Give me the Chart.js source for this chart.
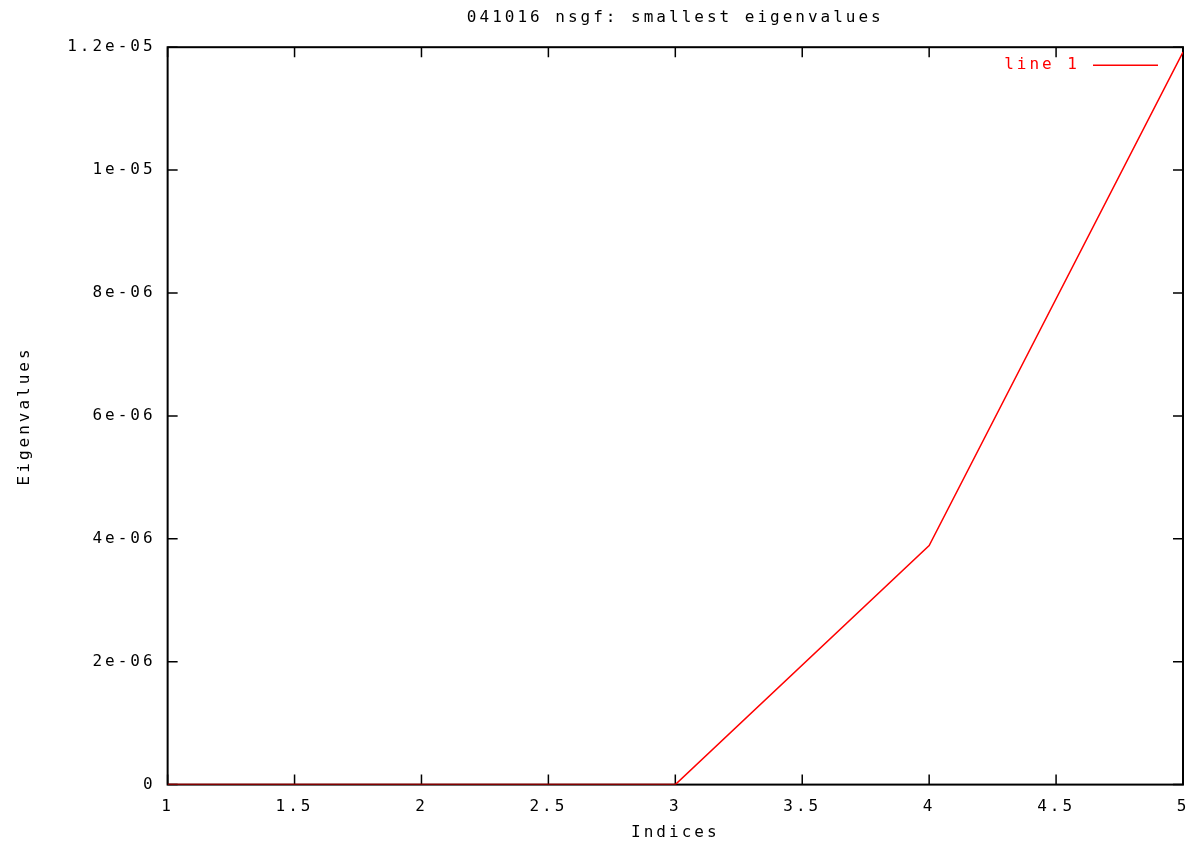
<!DOCTYPE html>
<html>
<head>
<meta charset="utf-8">
<script src="https://cdn.jsdelivr.net/npm/chart.js@4/dist/chart.umd.min.js"></script>
<style>
  html, body { margin: 0; padding: 0; background: #fff; }
  #wrap { width: 1194px; height: 843px; }
</style>
</head>
<body>
<div id="wrap"><canvas id="chart"></canvas></div>
<script>
const indices = [1, 2, 3, 4, 5]
const eigenvalues = [0, 0, 0, 3.89e-6, 1.192e-5]
const xTicks = [1, 1.5, 2, 2.5, 3, 3.5, 4, 4.5, 5]
const yTicks = [0, 2e-6, 4e-6, 6e-6, 8e-6, 1e-5, 1.2e-5]

const FONT = "'DejaVu Sans Mono', monospace"
const SPACING = '3px'

// gnuplot style exponent: 2e-06, 1.2e-05
function fmtExp(v) {
  if (Math.abs(v) < 1e-12) return '0'
  return Number(v.toPrecision(6)).toExponential().replace(/e([+-])(\d)$/, 'e$10$2')
}

const spacingPlugin = {
  id: 'spacing',
  beforeLayout(chart) { chart.ctx.letterSpacing = SPACING },
  beforeDraw(chart) { chart.ctx.letterSpacing = SPACING }
}

// inward tick marks on all four sides plus the frame (under the data line)
const framePlugin = {
  id: 'frame',
  beforeDatasetsDraw(chart) {
    const { ctx, chartArea: a, scales } = chart
    const len = 10
    ctx.save()
    ctx.strokeStyle = '#000'
    ctx.lineWidth = 1.5
    ctx.beginPath()
    scales.x.ticks.forEach(t => {
      const px = scales.x.getPixelForValue(t.value)
      ctx.moveTo(px, a.bottom); ctx.lineTo(px, a.bottom - len)
      ctx.moveTo(px, a.top); ctx.lineTo(px, a.top + len)
    })
    scales.y.ticks.forEach(t => {
      const py = scales.y.getPixelForValue(t.value)
      ctx.moveTo(a.left, py); ctx.lineTo(a.left + len, py)
      ctx.moveTo(a.right, py); ctx.lineTo(a.right - len, py)
    })
    ctx.stroke()
    ctx.lineWidth = 2
    ctx.strokeRect(a.left, a.top, a.right - a.left, a.bottom - a.top)
    ctx.restore()
  },
  // gnuplot-like key: text first, then the line sample
  afterDatasetsDraw(chart) {
    const { ctx, chartArea: a } = chart
    const ds = chart.data.datasets[0]
    const y = a.top + 18
    const lineEnd = a.right - 25
    const lineStart = lineEnd - 65
    ctx.save()
    ctx.strokeStyle = ds.borderColor
    ctx.lineWidth = 1.5
    ctx.beginPath()
    ctx.moveTo(lineStart, y); ctx.lineTo(lineEnd, y)
    ctx.stroke()
    ctx.fillStyle = ds.borderColor
    ctx.font = '16px ' + FONT
    ctx.textAlign = 'right'
    ctx.textBaseline = 'middle'
    ctx.fillText(ds.label, lineStart - 13, y)
    ctx.restore()
  }
}

new Chart(document.getElementById('chart'), {
  type: 'line',
  data: {
    datasets: [{
      label: 'line 1',
      data: indices.map((x, i) => ({ x, y: eigenvalues[i] })),
      borderColor: '#ff0000',
      borderWidth: 1.5,
      pointRadius: 0,
      tension: 0
    }]
  },
  options: {
    responsive: true,
    maintainAspectRatio: false,
    animation: false,
    layout: { padding: { left: 8, right: 0, top: 0, bottom: 0 } },
    plugins: {
      title: {
        display: true,
        fullSize: false,
        text: '041016 nsgf: smallest eigenvalues',
        color: '#000',
        font: { family: FONT, size: 16, weight: 'normal' },
        padding: { top: 8, bottom: 20 }
      },
      legend: { display: false },
      tooltip: { enabled: false }
    },
    scales: {
      x: {
        type: 'linear',
        min: 1,
        max: 5,
        afterBuildTicks: s => { s.ticks = xTicks.map(value => ({ value })) },
        afterFit: s => { s.paddingRight = 11 },
        grid: { display: false, drawTicks: false },
        border: { display: false },
        ticks: { color: '#000', padding: 13, maxRotation: 0, font: { family: FONT, size: 16 }, callback: v => String(v) },
        title: {
          display: true, text: 'Indices', color: '#000',
          font: { family: FONT, size: 16 }, padding: { top: -7, bottom: 1 }
        }
      },
      y: {
        min: 0,
        max: 1.2e-5,
        afterBuildTicks: s => { s.ticks = yTicks.map(value => ({ value })) },
        grid: { display: false, drawTicks: false },
        border: { display: false },
        ticks: { color: '#000', padding: 12, font: { family: FONT, size: 16 }, callback: v => fmtExp(v) },
        title: {
          display: true, text: 'Eigenvalues', color: '#000',
          font: { family: FONT, size: 16 }, padding: { top: 7, bottom: 21 }
        }
      }
    }
  },
  plugins: [spacingPlugin, framePlugin]
})
</script>
</body>
</html>
